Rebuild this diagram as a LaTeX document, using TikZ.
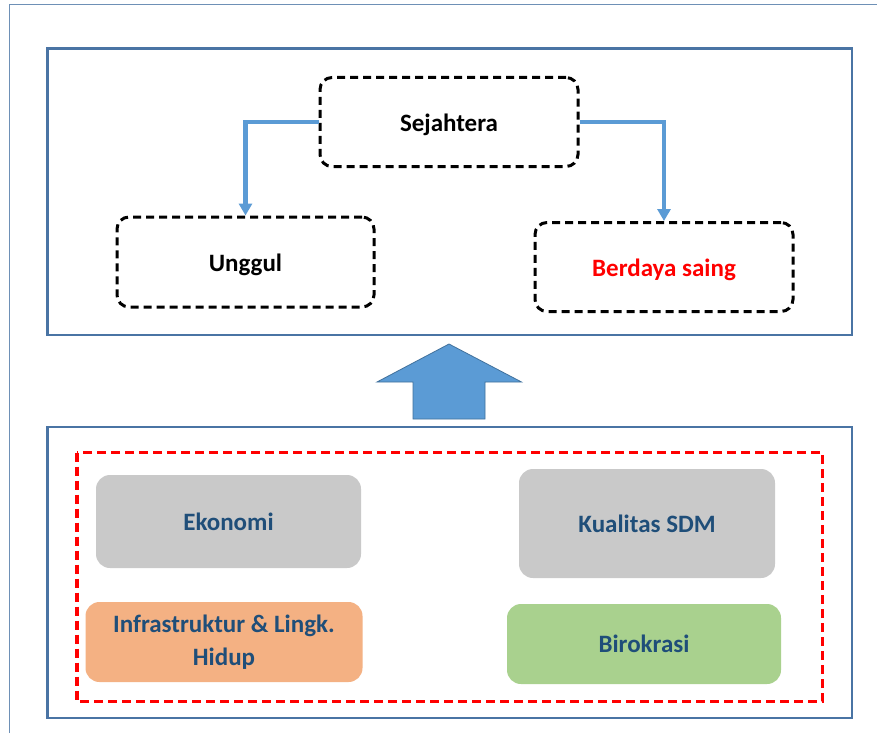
\documentclass[tikz,border=0pt]{standalone}
\usepackage{fontspec}
\setmainfont{Carlito}
\usetikzlibrary{arrows.meta}
\definecolor{frameblue}{HTML}{4A74A4}
\definecolor{arrowblue}{HTML}{5B9BD5}
\definecolor{arrowedge}{HTML}{41719C}
\definecolor{txtblue}{HTML}{1F4E79}
\definecolor{boxgray}{HTML}{C9C9C9}
\definecolor{boxorange}{HTML}{F4B183}
\definecolor{boxgreen}{HTML}{A9D18E}
\tikzset{
  panel/.style={draw=frameblue, line width=2.2pt},
  goalbox/.style={draw=black, line width=3pt, dash pattern=on 8pt off 5pt, rounded corners=12pt, font=\bfseries\fontsize{25}{29}\selectfont, align=center, text height=18pt, text depth=5pt},
  factor/.style={rounded corners=14pt, text=txtblue, font=\bfseries\fontsize{25}{30}\selectfont, align=center},
  link/.style={draw=arrowblue, line width=4.5pt, -{Triangle[length=12pt,width=13pt]}},
}
\begin{document}
\begin{tikzpicture}[x=1pt,y=-1pt]
\useasboundingbox (0,0) rectangle (877,733);
\fill[white] (0,0) rectangle (877,733);
% outer frame (partially visible)
\draw[draw=frameblue!80, line width=1.8pt] (9.5,733) -- (9.5,4.5) -- (877,4.5);
% panels
\draw[panel] (47.5,48.5) rectangle (852,335);
\draw[panel] (47.5,427) rectangle (852,718);
% goal boxes
\node[goalbox, minimum width=258pt, minimum height=89pt] (sej) at (449,122) {\raisebox{-3pt}{Sejahtera}};
\node[goalbox, minimum width=257pt, minimum height=90pt] (ung) at (245.5,262) {\raisebox{-3pt}{Unggul}};
\node[goalbox, minimum width=258pt, minimum height=89pt, text=red] (ber) at (664,267) {\raisebox{-3pt}{Berdaya saing}};
\draw[link] (sej.west) -| (ung.north);
\draw[link] (sej.east) -| (ber.north);
% big up arrow
\filldraw[fill=arrowblue, draw=arrowedge, line width=0.8pt]
  (449,344) -- (521.5,382) -- (485,382) -- (485,419) -- (413,419) -- (413,382) -- (377,382) -- cycle;
% red dashed group
\draw[red, line width=3.2pt, dash pattern=on 9pt off 5pt] (77,452.5) rectangle (822.5,701.5);
% factor boxes
\node[factor, fill=boxgray, minimum width=265pt, minimum height=93pt] (eko) at (228.5,521.5) {Ekonomi};
\node[factor, fill=boxgray, minimum width=256pt, minimum height=109pt] (sdm) at (647,523.5) {Kualitas SDM};
\node[factor, fill=boxorange, minimum width=277pt, minimum height=80pt] (inf) at (224,642) {Infrastruktur \& Lingk.\\[3pt]Hidup};
\node[factor, fill=boxgreen, minimum width=274pt, minimum height=80pt] (bir) at (644,644) {Birokrasi};
\end{tikzpicture}
\end{document}
